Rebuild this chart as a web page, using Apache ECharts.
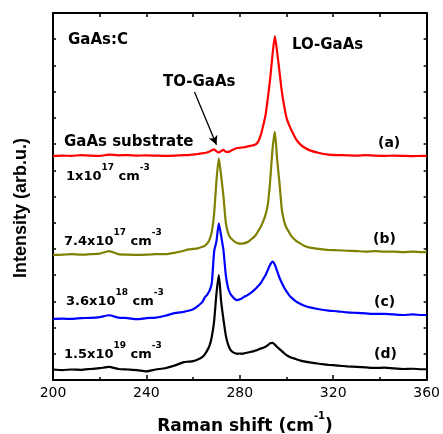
<!DOCTYPE html>
<html>
<head>
<meta charset="utf-8">
<script src="https://cdn.jsdelivr.net/npm/echarts@6/dist/echarts.min.js"></script>
<style>
  html, body { margin: 0; padding: 0; background: #fff; }
  #chart { width: 443px; height: 434px; }
</style>
</head>
<body>
<div id="chart"></div>
<script>
// Raman shift (cm-1)
var xs = [200, 204, 208, 212, 216, 220, 224, 228, 232, 236, 240, 244, 248, 252, 256,
  258, 260, 262,
  264, 265, 266, 267, 268, 269, 270, 271, 272, 273, 274, 275, 276, 277, 278, 279, 280,
  281, 282, 283, 284, 285, 286, 287, 288, 289, 290, 291, 292, 293, 294, 295, 296, 297,
  298, 299, 300, 301, 302,
  304, 306, 308, 310,
  314, 318, 322, 326, 330, 334, 338, 342, 346, 350, 354, 358, 360];

// (a) GaAs substrate, offset intensity
var specA = [8.55, 8.56, 8.55, 8.58, 8.56, 8.55, 8.6, 8.57, 8.58, 8.56, 8.57, 8.56, 8.55, 8.56, 8.58,
  8.58, 8.6, 8.62,
  8.65, 8.66, 8.68, 8.72, 8.76, 8.8, 8.72, 8.68, 8.73, 8.78, 8.7, 8.7, 8.74, 8.78, 8.82, 8.85, 8.86,
  8.87, 8.88, 8.9, 8.92, 8.94, 8.96, 9.0, 9.12, 9.35, 9.7, 10.1, 10.75, 11.5, 12.4, 13.12, 12.5, 11.75,
  11.0, 10.45, 10.0, 9.75, 9.55,
  9.2, 8.98, 8.85, 8.76,
  8.66, 8.6, 8.58, 8.57, 8.56, 8.58, 8.56, 8.55, 8.56, 8.55, 8.54, 8.55, 8.55];

// (b) 7.4x10^17
var specB = [4.77, 4.78, 4.8, 4.78, 4.8, 4.82, 4.92, 4.8, 4.78, 4.77, 4.78, 4.8, 4.8, 4.85, 4.93,
  4.98, 5.0, 5.02,
  5.08, 5.12, 5.2, 5.35, 5.65, 6.35, 7.6, 8.46, 7.8, 7.0, 6.0, 5.6, 5.42, 5.34, 5.26, 5.22, 5.2,
  5.2, 5.22, 5.25, 5.3, 5.38, 5.45, 5.55, 5.7, 5.85, 6.05, 6.3, 6.7, 7.6, 8.8, 9.47, 8.4, 7.5,
  6.5, 6.05, 5.8, 5.65, 5.5,
  5.32, 5.2, 5.1, 5.05,
  5.0, 4.96, 4.95, 4.93, 4.92, 4.9, 4.92, 4.9, 4.9, 4.88, 4.9, 4.88, 4.88];

// (c) 3.6x10^18
var specC = [2.33, 2.34, 2.33, 2.36, 2.37, 2.4, 2.47, 2.38, 2.36, 2.32, 2.36, 2.38, 2.45, 2.55, 2.6,
  2.64, 2.7, 2.82,
  2.98, 3.15, 3.25, 3.4, 3.7, 4.9, 5.3, 5.98, 5.5, 4.95, 4.0, 3.5, 3.28, 3.17, 3.08, 3.05, 3.08,
  3.12, 3.18, 3.22, 3.28, 3.34, 3.42, 3.5, 3.6, 3.7, 3.85, 4.0, 4.2, 4.4, 4.52, 4.4, 4.15, 3.9,
  3.7, 3.52, 3.38, 3.25, 3.15,
  3.0, 2.9, 2.82, 2.77,
  2.7, 2.65, 2.62, 2.58, 2.56, 2.54, 2.52, 2.52, 2.5, 2.48, 2.5, 2.48, 2.48];

// (d) 1.5x10^19
var specD = [0.4, 0.38, 0.4, 0.39, 0.42, 0.45, 0.5, 0.42, 0.4, 0.38, 0.33, 0.4, 0.45, 0.55, 0.68,
  0.7, 0.72, 0.78,
  0.88, 0.98, 1.12, 1.3, 1.65, 2.25, 3.3, 4.0, 3.0, 2.3, 1.7, 1.35, 1.15, 1.06, 1.02, 1.0, 1.01,
  1.0, 1.02, 1.04, 1.06, 1.08, 1.1, 1.13, 1.16, 1.2, 1.23, 1.27, 1.33, 1.4, 1.42, 1.35, 1.26, 1.18,
  1.1, 1.02, 0.95, 0.9, 0.86,
  0.8, 0.74, 0.7, 0.67,
  0.62, 0.58, 0.55, 0.52, 0.5, 0.48, 0.46, 0.47, 0.44, 0.42, 0.43, 0.41, 0.41];

var xTicks = [200, 240, 280, 320, 360];
var colors = ["#ff0000", "#808000", "#0000ff", "#000000"];
var toArrow = [[260.6, 10.99], [270.0, 8.97]];

var font = "DejaVu Sans, Liberation Sans, sans-serif";

function pairs(arr) {
  return xs.map(function (x, i) { return [x, arr[i]]; });
}

var richLbl = {
  n: { fontSize: 13, fontWeight: "bold", fontFamily: font, color: "#000", verticalAlign: "bottom", lineHeight: 20 },
  s: { fontSize: 9, fontWeight: "bold", fontFamily: font, color: "#000", verticalAlign: "top", lineHeight: 20 }
};

function txt(x, y, text, size) {
  return {
    type: "text", x: x, y: y, silent: true,
    style: {
      text: text, fill: "#000", font: "bold " + (size || 15) + "px " + font,
      verticalAlign: "middle"
    }
  };
}
function conc(x, y, a, b) {
  return {
    type: "text", x: x, y: y, silent: true,
    style: {
      text: "{n|" + a + "}{s|" + b + "}{n| cm}{s|-3}",
      rich: richLbl, verticalAlign: "middle"
    }
  };
}

function axLine() { return { onZero: false, lineStyle: { color: "#000", width: 2 } }; }
function tick(len) { return { inside: true, length: len, lineStyle: { width: 1.5, color: "#000" } }; }

var option = {
  animation: false,
  grid: { left: 53, right: 15, top: 13, bottom: 54 },
  xAxis: [{
    type: "value", min: 200, max: 360, interval: 40, position: "bottom",
    axisLine: axLine(),
    axisTick: tick(5),
    minorTick: { show: true, splitNumber: 2, length: 3, lineStyle: { width: 1.5, color: "#000" } },
    axisLabel: {
      color: "#000", fontSize: 14, fontFamily: font, margin: 6,
      customValues: xTicks
    },
    splitLine: { show: false }
  }, {
    type: "value", min: 200, max: 360, interval: 40, position: "top",
    axisLine: axLine(),
    axisTick: tick(4),
    minorTick: { show: true, splitNumber: 2, length: 4, lineStyle: { width: 1.5, color: "#000" } },
    axisLabel: { show: false },
    splitLine: { show: false }
  }],
  yAxis: [{
    type: "value", min: 0, max: 14, interval: 1, position: "left",
    axisLine: axLine(),
    axisTick: tick(3),
    axisLabel: { show: false },
    splitLine: { show: false }
  }, {
    type: "value", min: 0, max: 14, interval: 1, position: "right",
    axisLine: axLine(),
    axisTick: tick(3),
    axisLabel: { show: false },
    splitLine: { show: false }
  }],
  series: [specA, specB, specC, specD].map(function (arr, k) {
    var s = {
      type: "line", data: pairs(arr), showSymbol: false, smooth: 0.2,
      lineStyle: { color: colors[k], width: 2.2 }, itemStyle: { color: colors[k] },
      silent: true, z: 2 + k
    };
    if (k === 0) {
      s.markLine = {
        silent: true, symbol: ["none", "arrow"], symbolSize: [7, 9],
        lineStyle: { color: "#000", width: 1.3, type: "solid" },
        label: { show: false },
        data: [[{ coord: toArrow[0] }, { coord: toArrow[1] }]]
      };
    }
    return s;
  }),
  graphic: [
    // axis titles
    {
      type: "text", x: 21, y: 208, rotation: Math.PI / 2, silent: true,
      style: {
        text: "Intensity (arb.u.)", fill: "#000", align: "center", verticalAlign: "middle",
        font: "bold 18px Liberation Sans, Arial, sans-serif"
      }
    },
    {
      type: "text", x: 245, y: 423, silent: true,
      style: {
        text: "{t|Raman shift (cm}{u|-1}{t|)}", align: "center", verticalAlign: "middle",
        rich: {
          t: { fontSize: 17, fontWeight: "bold", fontFamily: font, color: "#000", verticalAlign: "bottom", lineHeight: 24 },
          u: { fontSize: 10, fontWeight: "bold", fontFamily: font, color: "#000", verticalAlign: "top", lineHeight: 24 }
        }
      }
    },
    txt(68, 40, "GaAs:C"),
    txt(292, 45, "LO-GaAs"),
    txt(163, 82, "TO-GaAs"),
    txt(64, 142, "GaAs substrate"),
    txt(378, 143, "(a)", 14),
    conc(66, 173, "1x10", "17"),
    conc(64, 238, "7.4x10", "17"),
    txt(373, 239, "(b)", 14),
    conc(66, 298, "3.6x10", "18"),
    txt(374, 302, "(c)", 14),
    conc(64, 351, "1.5x10", "19"),
    txt(374, 354, "(d)", 14)
  ]
};

var chart = echarts.init(document.getElementById("chart"));
chart.setOption(option);
</script>
</body>
</html>
